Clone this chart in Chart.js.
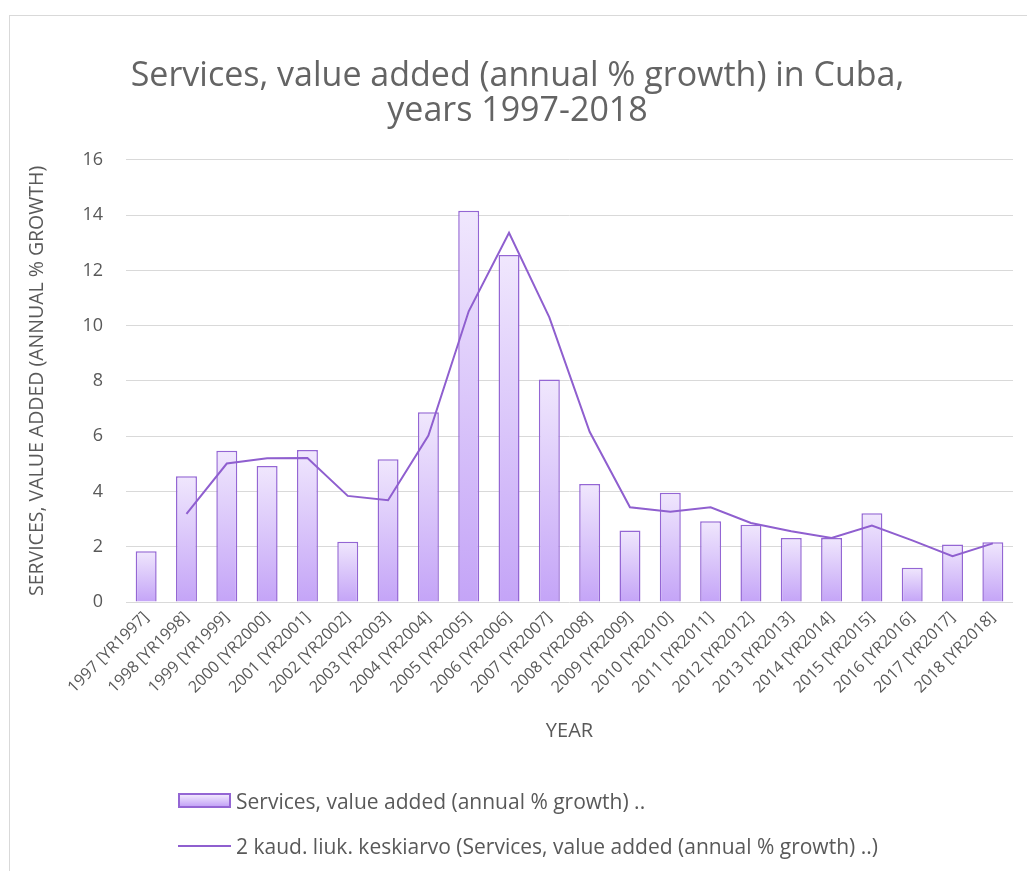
<!DOCTYPE html>
<html>
<head>
<meta charset="utf-8">
<script src="https://cdn.jsdelivr.net/npm/chart.js@4.4.1/dist/chart.umd.min.js"></script>
<style>
  html, body { margin: 0; padding: 0; background: #fff; overflow: hidden; }
  #wrap { position: relative; width: 1027px; height: 871px; }
  #frame { position: absolute; left: 9px; top: 15px; width: 1100px; height: 900px; border: 1px solid #d9d9d9; }
  #chartBox { position: absolute; left: 0; top: 0; width: 1027px; height: 871px; }
  #legend { position: absolute; left: 178px; top: 778px; font-family: "Open Sans", sans-serif; font-size: 21px; color: #595959; }
  .item { display: flex; align-items: center; height: 45px; white-space: nowrap; }
  .swatch { width: 53px; height: 15px; margin-right: 5px; }
</style>
</head>
<body>
<div id="wrap">
  <div id="frame"></div>
  <div id="chartBox"><canvas id="chart"></canvas></div>
  <div id="legend"></div>
</div>
<script>
const years = ['1997 [YR1997]', '1998 [YR1998]', '1999 [YR1999]', '2000 [YR2000]', '2001 [YR2001]', '2002 [YR2002]',
  '2003 [YR2003]', '2004 [YR2004]', '2005 [YR2005]', '2006 [YR2006]', '2007 [YR2007]', '2008 [YR2008]',
  '2009 [YR2009]', '2010 [YR2010]', '2011 [YR2011]', '2012 [YR2012]', '2013 [YR2013]', '2014 [YR2014]',
  '2015 [YR2015]', '2016 [YR2016]', '2017 [YR2017]', '2018 [YR2018]'];
const growth = [1.84, 4.55, 5.47, 4.92, 5.50, 2.18, 5.17, 6.87, 14.16, 12.56, 8.05, 4.27,
  2.59, 3.95, 2.92, 2.80, 2.32, 2.32, 3.21, 1.24, 2.08, 2.16];
const movingAvg = [null, 3.19, 5.01, 5.20, 5.21, 3.84, 3.68, 6.02, 10.52, 13.36, 10.30, 6.16,
  3.43, 3.27, 3.43, 2.86, 2.56, 2.32, 2.77, 2.23, 1.66, 2.12];
const yTicks = [0, 2, 4, 6, 8, 10, 12, 14, 16];

const barLabel = 'Services, value added (annual % growth) ..';
const lineLabel = '2 kaud. liuk. keskiarvo (Services, value added (annual % growth) ..)';
const gray = '#595959';
const purple = '#9466d4';

const ctx = document.getElementById('chart').getContext('2d');

const chart = new Chart(ctx, {
    data: {
        labels: years,
        datasets: [{
            type: 'line',
            label: lineLabel,
            data: movingAvg,
            borderColor: '#8f5fcf',
            borderWidth: 2,
            pointRadius: 0,
            tension: 0,
            order: 0
        }, {
            type: 'bar',
            label: barLabel,
            data: growth,
            backgroundColor: (c) => {
                const { chartArea, scales } = c.chart;
                if (!chartArea || c.type !== 'data') return '#dcc8fb';
                const top = scales.y.getPixelForValue(c.raw);
                const base = scales.y.getPixelForValue(0);
                const g = c.chart.ctx.createLinearGradient(0, top, 0, base);
                g.addColorStop(0, '#f0e7fd');
                g.addColorStop(1, '#c4a4f7');
                return g;
            },
            borderColor: purple,
            borderWidth: 1.5,
            categoryPercentage: 1,
            barPercentage: 0.52,
            order: 1
        }]
    },
    options: {
        responsive: true,
        maintainAspectRatio: false,
        animation: false,
        layout: { padding: { left: 22, right: 14, top: 59, bottom: 126 } },
        plugins: {
            legend: { display: false },
            tooltip: { enabled: false },
            title: {
                display: true,
                text: ['Services, value added (annual % growth) in Cuba,', 'years 1997-2018'],
                color: '#646464',
                font: { family: 'Open Sans', size: 34, weight: 'normal', lineHeight: 1.02 },
                padding: { top: 0, bottom: 31.5 }
            }
        },
        scales: {
            x: {
                grid: { display: false, drawTicks: false },
                border: { display: false },
                ticks: {
                    color: gray,
                    font: { family: 'Open Sans', size: 16 },
                    minRotation: 45,
                    maxRotation: 45,
                    autoSkip: false,
                    padding: 6
                },
                title: {
                    display: true,
                    text: 'YEAR',
                    color: gray,
                    font: { family: 'Open Sans', size: 20 },
                    padding: { top: 4, bottom: 2 }
                },
                afterFit: (s) => { s.height = 143; }
            },
            y: {
                min: 0,
                max: 16,
                afterBuildTicks: (s) => { s.ticks = yTicks.map(v => ({ value: v })); },
                grid: { color: '#d9d9d9', lineWidth: 1, drawTicks: false },
                border: { display: false },
                ticks: {
                    color: gray,
                    font: { family: 'Open Sans', size: 18 },
                    padding: 23
                },
                title: {
                    display: true,
                    text: 'SERVICES, VALUE ADDED (ANNUAL % GROWTH)',
                    color: gray,
                    font: { family: 'Open Sans', size: 19.5 },
                    padding: { top: 4, bottom: 4 }
                },
                afterFit: (s) => { s.width = 104; }
            }
        }
    }
});

// legend below the chart, left aligned like the original
const legend = document.getElementById('legend');
chart.data.datasets.slice().reverse().forEach(ds => {
    const item = document.createElement('div');
    item.className = 'item';
    const sw = document.createElement('div');
    sw.className = 'swatch';
    if (ds.type === 'bar') {
        sw.style.background = 'linear-gradient(#f0e7fd, #c4a4f7)';
        sw.style.border = '2px solid ' + purple;
        sw.style.boxSizing = 'border-box';
    } else {
        sw.style.height = '2px';
        sw.style.background = ds.borderColor;
    }
    const txt = document.createElement('span');
    txt.textContent = ds.label;
    item.appendChild(sw);
    item.appendChild(txt);
    legend.appendChild(item);
});
</script>
</body>
</html>
